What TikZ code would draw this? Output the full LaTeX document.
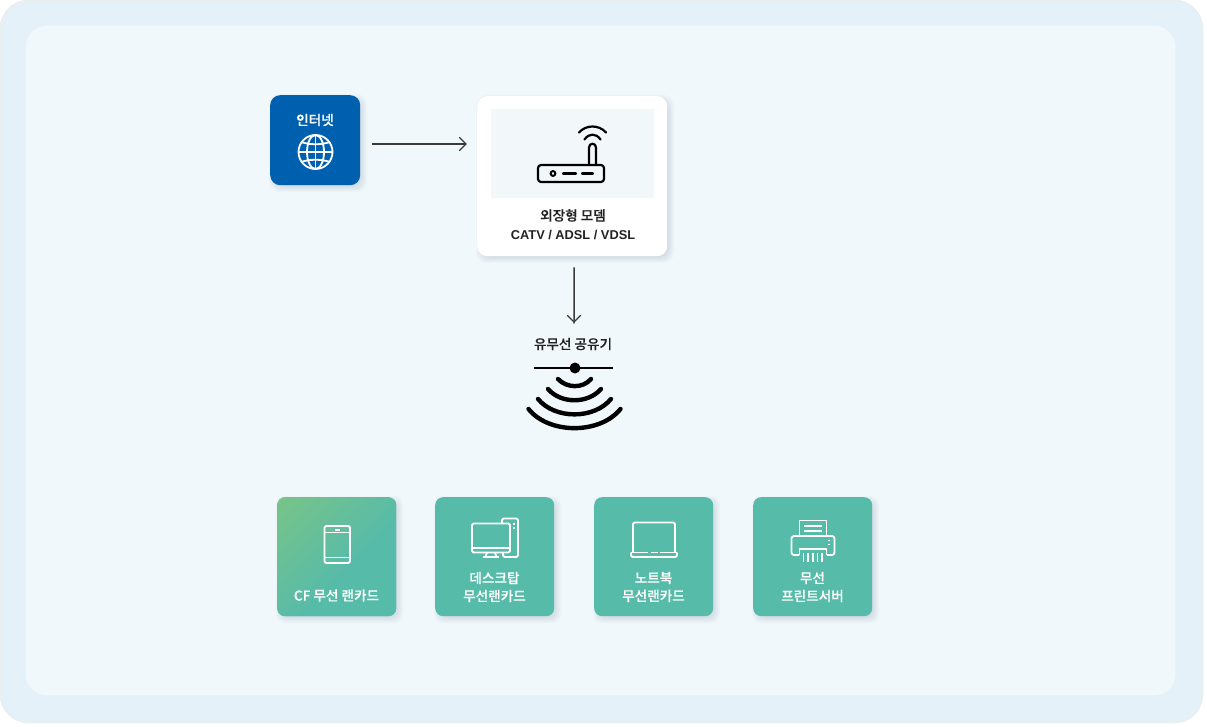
\documentclass[tikz,border=0pt]{standalone}
\usepackage{fontspec}
\setmainfont[BoldFont={Noto Sans CJK KR Medium},BoldFeatures={FakeBold=0.35}]{Noto Sans CJK KR}
\newfontfamily\latinb{Liberation Sans}
\definecolor{outerbg}{HTML}{E5F1F8}
\definecolor{outeredge}{HTML}{E9EEEF}
\definecolor{innerbg}{HTML}{F1F8FB}
\definecolor{blueb}{HTML}{0060B0}
\definecolor{tealb}{HTML}{57BBA9}
\definecolor{greenb}{HTML}{78C488}
\definecolor{panelb}{HTML}{F2F7FA}
\definecolor{inkb}{HTML}{222222}
\definecolor{arrowb}{HTML}{3A3A3A}
\definecolor{shadowb}{HTML}{40607A}
\pgfdeclarehorizontalshading{tilegrad}{100bp}{color(0bp)=(greenb); color(15bp)=(greenb); color(57bp)=(tealb); color(100bp)=(tealb)}
\newcommand{\softshadow}[5]{%
  \foreach \e in {-3,-2,-1,0,1,2,3,4}{%
    \fill[shadowb,opacity=.022,rounded corners=#5] (#1+3-\e,#2+3-\e) rectangle (#3+3+\e,#4+3+\e);}}
\tikzset{
  x=1pt,y=-1pt,
  tilebox/.style={draw=none,fill=tealb,rounded corners=8pt,minimum width=119pt,minimum height=119pt,inner sep=0pt,anchor=north west},
  tilelabel/.style={text=white,font=\bfseries\fontsize{13.6}{18}\selectfont,align=center,inner sep=0pt,anchor=center},
  darklabel/.style={text=inkb,font=\bfseries\fontsize{13.6}{19}\selectfont,align=center,inner sep=0pt,anchor=center},
  conn/.style={draw=arrowb,line width=1.4pt},
  chev/.style={draw=arrowb,line width=1.4pt,line cap=round},
  icon/.style={draw=white,line width=1.8pt,line join=round},
  dkicon/.style={draw=black,line width=2.2pt,line join=round,line cap=round},
  wave/.style={draw=black,line width=4.4pt,line cap=round},
}
\begin{document}
\begin{tikzpicture}
\useasboundingbox (0,0) rectangle (1207,727);
\fill[white] (0,0) rectangle (1207,727);
\filldraw[fill=outerbg,draw=outeredge,line width=1.5pt,rounded corners=28pt] (0.5,0.5) rectangle (1202.5,722.5);
\fill[innerbg,rounded corners=20pt] (26,26) rectangle (1175,695);
% internet
\softshadow{270}{95}{360}{185}{10pt}
\node[fill=blueb,rounded corners=10pt,minimum width=90pt,minimum height=90pt,inner sep=0pt,anchor=north west] (inet) at (270,95) {};
\node[tilelabel] (inetlabel) at (315,120) {인터넷};
\begin{scope}[icon]
\draw (315.5,152) circle[radius=17];
\draw (315.5,152) ellipse[x radius=8.5,y radius=17];
\draw (315.5,135) -- (315.5,169);
\draw (298.5,152) -- (332.5,152);
\draw (301,142) .. controls (310,145) and (321,145) .. (330,142);
\draw (301,162) .. controls (310,159) and (321,159) .. (330,162);
\end{scope}
% modem
\softshadow{477}{96}{667}{256}{10pt}
\node[fill=white,rounded corners=10pt,minimum width=190pt,minimum height=160pt,inner sep=0pt,anchor=north west] (modem) at (477,96) {};
\fill[panelb] (491,109) rectangle (654,198);
\begin{scope}[dkicon]
\draw[rounded corners=3pt] (538,165) rectangle (604,182);
\draw[line width=2pt] (553,173.5) circle[radius=2.4];
\draw (563,173.5) -- (576,173.5);
\draw (582,173.5) -- (593,173.5);
\draw (589,165) -- (589,147.5) .. controls (589,142.5) and (596,142.5) .. (596,147.5) -- (596,165);
\draw (579,132.5) .. controls (586,124.5) and (599,124.5) .. (606,132.5);
\draw (584.5,139.5) .. controls (589,133) and (596,133) .. (600.5,139.5);
\end{scope}
\node[darklabel] (modemlabel) at (573,224.5) {외장형 모뎀\\{\latinb\fontsize{12.8}{19}\selectfont\bfseries CATV / ADSL / VDSL}};
% arrows
\draw[conn,shorten <=12pt,shorten >=11pt] ([yshift=-4pt]inet.east) -- ([yshift=32pt]modem.west);
\draw[chev] (459.5,137.5) -- (466,144) -- (459.5,150.5);
\node[darklabel] (router) at (573,344) {유무선 공유기};
\draw[conn,shorten <=11pt,shorten >=14pt] ([xshift=2pt]modem.south) -- ([xshift=1pt]router.north);
\draw[chev] (567.5,315.5) -- (574,322) -- (580.5,315.5);
% wifi
\draw[line width=2pt] (534,368) -- (613,368);
\fill (575,368) circle[radius=5.5];
\draw[wave] (558,379) .. controls (567,388.5) and (583,388.5) .. (591,379);
\draw[wave] (548,389) .. controls (561,404) and (588,404) .. (601,389);
\draw[wave] (538,399) .. controls (555,419.5) and (594,419.5) .. (611,399);
\draw[wave] (528.5,409) .. controls (549,434.5) and (600,434.5) .. (620.5,409);
% tiles
\foreach \x in {277,435,594,753}{\softshadow{\x}{497}{\x+119}{616}{8pt}}
\node[tilebox,shade,shading=tilegrad,shading angle=-45] (t1) at (277,497) {};
\node[tilebox] (t2) at (435,497) {};
\node[tilebox] (t3) at (594,497) {};
\node[tilebox] (t4) at (753,497) {};
\node[tilelabel] (t1l) at (336.5,595.5) {CF 무선 랜카드};
\node[tilelabel] (t2l) at (494.5,587) {데스크탑\\무선랜카드};
\node[tilelabel] (t3l) at (653.5,587) {노트북\\무선랜카드};
\node[tilelabel] (t4l) at (812.5,587) {무선\\프린트서버};
% tablet
\begin{scope}[icon]
\draw[rounded corners=1.5pt] (324.5,526) rectangle (350,563);
\draw (324.5,532.5) -- (350,532.5);
\draw (324.5,557.5) -- (350,557.5);
\draw (335,530) -- (340,530);
\end{scope}
% desktop
\begin{scope}[icon]
\draw[rounded corners=1.5pt] (472,523.5) rectangle (510,552.5);
\draw (472,548) -- (510,548);
\draw (487,552.5) -- (485.5,557);
\draw (495,552.5) -- (496.5,557);
\draw (483,557) -- (499,557);
\draw[rounded corners=1.5pt] (502,523) -- (502,518.5) -- (518,518.5) -- (518,557) -- (503,557) -- (503,553);
\draw (514,522.5) -- (514,524.5);
\draw (514,526.5) -- (514,528.5);
\end{scope}
% laptop
\begin{scope}[icon]
\draw[rounded corners=1.5pt] (633,552) -- (633,522.5) -- (675,522.5) -- (675,552);
\draw[rounded corners=1.5pt] (631,552.5) -- (631,557) -- (677,557) -- (677,552.5);
\draw (631,552.5) -- (648,552.5);
\draw (650.5,552.5) -- (657.5,552.5);
\draw (660,552.5) -- (677,552.5);
\end{scope}
% printer
\begin{scope}[icon]
\draw (799.5,536) -- (799.5,520.5) -- (826.5,520.5) -- (826.5,536);
\draw (804,526) -- (822,526);
\draw (804,531) -- (822,531);
\draw[rounded corners=2.5pt] (799,555) -- (791.5,555) -- (791.5,536) -- (834.5,536) -- (834.5,555) -- (827,555);
\draw (799.5,555) -- (799.5,549) -- (826.5,549) -- (826.5,555);
\draw (829,539.5) -- (829,541);
\draw (829,543.5) -- (829,545);
\foreach \sx in {803.5,808,813,817.5,822}{\draw (\sx,553) -- (\sx,562);}
\end{scope}
\end{tikzpicture}
\end{document}
